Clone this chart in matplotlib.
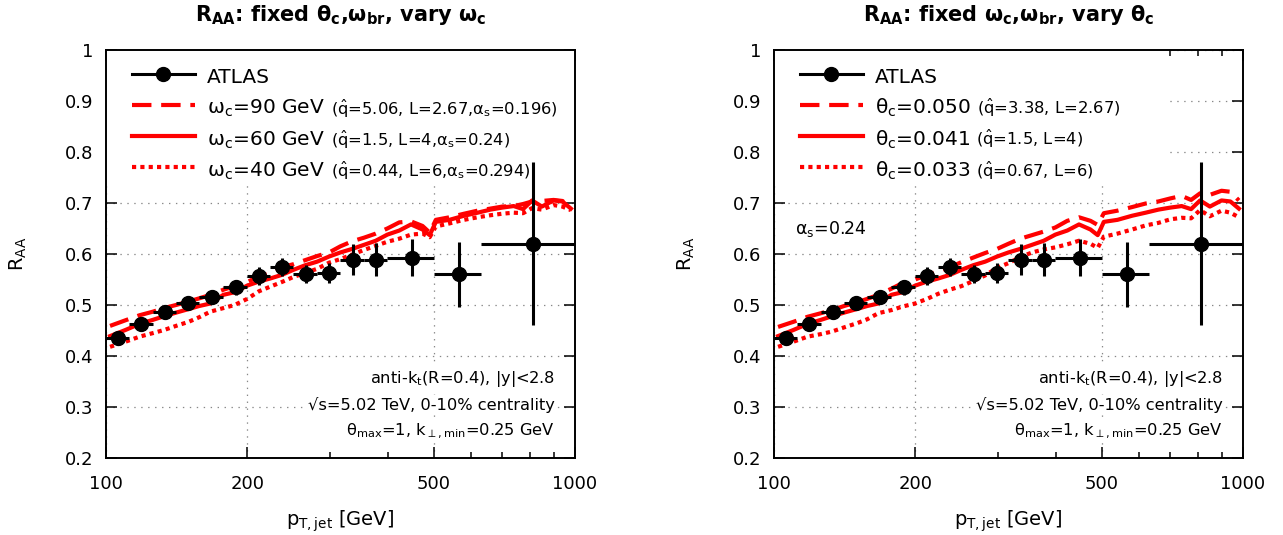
import numpy as np
import matplotlib
matplotlib.use('Agg')
import matplotlib.pyplot as plt
from matplotlib.lines import Line2D
from matplotlib.patches import Rectangle
from matplotlib.ticker import FixedLocator, FixedFormatter, NullFormatter

plt.rcParams['font.family'] = 'DejaVu Sans'
plt.rcParams['mathtext.default'] = 'regular'
plt.rcParams['lines.scale_dashes'] = False

# ATLAS jet R_AA, 0-10%, 5.02 TeV
atlas_lo = [100, 112, 126, 141, 158, 178, 200, 224, 251, 282, 316, 355, 398, 501, 631]
atlas_hi = [112, 126, 141, 158, 178, 200, 224, 251, 282, 316, 355, 398, 501, 631, 1000]
atlas_pt = [106, 119, 133.5, 149.5, 168, 189, 212, 237.5, 266.5, 299, 335.5, 376.5, 449.5, 566, 815.5]
atlas_raa = [0.435, 0.462, 0.487, 0.503, 0.516, 0.535, 0.557, 0.574, 0.561, 0.563,
             0.589, 0.589, 0.593, 0.560, 0.620]
atlas_err = [0.012, 0.012, 0.012, 0.013, 0.013, 0.015, 0.017, 0.018, 0.018, 0.020,
             0.030, 0.033, 0.037, 0.064, 0.160]

# model curves
pt = [102, 110, 118, 126, 133, 141, 150, 158, 167, 178, 188, 200, 212, 224, 237, 251,
      266, 282, 299, 316, 335, 355, 376, 398, 422, 447, 473, 490, 505, 540, 580, 620,
      660, 700, 740, 775, 810, 850, 900, 940, 980]
# omega_c=60 GeV == theta_c=0.041 (same parameters)
raa_ref = [0.439, 0.451, 0.463, 0.471, 0.478, 0.485, 0.492, 0.498, 0.503, 0.520, 0.525,
           0.538, 0.546, 0.552, 0.559, 0.569, 0.578, 0.585, 0.595, 0.603, 0.610, 0.618,
           0.626, 0.638, 0.646, 0.658, 0.648, 0.637, 0.663, 0.667, 0.675, 0.681, 0.687,
           0.691, 0.694, 0.688, 0.705, 0.693, 0.705, 0.703, 0.689]
raa_w90 = [0.459, 0.470, 0.480, 0.487, 0.494, 0.500, 0.507, 0.513, 0.520, 0.530, 0.537,
           0.545, 0.556, 0.563, 0.574, 0.580, 0.588, 0.596, 0.603, 0.615, 0.625, 0.632,
           0.640, 0.650, 0.662, 0.664, 0.655, 0.642, 0.667, 0.672, 0.679, 0.685, 0.689,
           0.693, 0.694, 0.698, 0.703, 0.704, 0.706, 0.704, 0.692]
raa_w40 = [0.418, 0.428, 0.438, 0.445, 0.451, 0.459, 0.467, 0.476, 0.487, 0.494, 0.500,
           0.512, 0.527, 0.536, 0.545, 0.555, 0.563, 0.571, 0.583, 0.590, 0.599, 0.608,
           0.616, 0.624, 0.630, 0.638, 0.640, 0.633, 0.654, 0.660, 0.667, 0.672, 0.676,
           0.679, 0.681, 0.680, 0.690, 0.687, 0.696, 0.693, 0.686]
raa_t050 = [0.457, 0.467, 0.477, 0.484, 0.490, 0.498, 0.505, 0.512, 0.520, 0.532, 0.543,
            0.550, 0.559, 0.566, 0.574, 0.584, 0.593, 0.602, 0.610, 0.620, 0.630, 0.637,
            0.644, 0.652, 0.665, 0.672, 0.665, 0.657, 0.680, 0.685, 0.692, 0.699, 0.703,
            0.709, 0.714, 0.706, 0.719, 0.716, 0.724, 0.722, 0.705]
raa_t033 = [0.418, 0.428, 0.438, 0.443, 0.448, 0.456, 0.464, 0.472, 0.484, 0.490, 0.497,
            0.503, 0.512, 0.522, 0.530, 0.537, 0.547, 0.558, 0.573, 0.582, 0.594, 0.603,
            0.609, 0.613, 0.619, 0.626, 0.620, 0.612, 0.634, 0.640, 0.648, 0.656, 0.661,
            0.668, 0.671, 0.670, 0.686, 0.674, 0.685, 0.681, 0.672]

W, H = 1283, 535
fig = plt.figure(figsize=(W / 100, H / 100), dpi=100)
axL = fig.add_axes([106 / W, 77 / H, 469 / W, 408 / H])
axR = fig.add_axes([774 / W, 77 / H, 469 / W, 408 / H])

red = '#ff0000'
dash = (0, (14, 7))
dot = (0, (3, 3))

panels = [
    (axL, raa_w90, raa_w40,
     [r'$\omega_c$=90 GeV', r'$\omega_c$=60 GeV', r'$\omega_c$=40 GeV'],
     [r'($\hat{q}$=5.06, L=2.67,$\alpha_s$=0.196)', r'($\hat{q}$=1.5, L=4,$\alpha_s$=0.24)',
      r'($\hat{q}$=0.44, L=6,$\alpha_s$=0.294)'],
     r'$\mathbf{R_{AA}}$: fixed $\mathbf{\theta_c}$,$\mathbf{\omega_{br}}$, vary $\mathbf{\omega_c}$',
     1.0),
    (axR, raa_t050, raa_t033,
     [r'$\theta_c$=0.050', r'$\theta_c$=0.041', r'$\theta_c$=0.033'],
     [r'($\hat{q}$=3.38, L=2.67)', r'($\hat{q}$=1.5, L=4)', r'($\hat{q}$=0.67, L=6)'],
     r'$\mathbf{R_{AA}}$: fixed $\mathbf{\omega_c}$,$\mathbf{\omega_{br}}$, vary $\mathbf{\theta_c}$',
     0.834),
]

pt_a = np.array(atlas_pt)
xerr = [pt_a - np.array(atlas_lo), np.array(atlas_hi) - pt_a]

small_jobs = []
for ax, hi, lo, labels, smalls, title, boxw in panels:
    ax.set_xscale('log')
    ax.set_xlim(100, 1000)
    ax.set_ylim(0.2, 1.0)
    ax.set_axisbelow(True)

    ax.errorbar(atlas_pt, atlas_raa, xerr=xerr, yerr=atlas_err, fmt='o', color='black',
                ms=10, lw=2.2, capsize=0, zorder=4)
    l1, = ax.plot(pt, hi, color=red, lw=3, linestyle=dash, zorder=3)
    l2, = ax.plot(pt, raa_ref, color=red, lw=3, zorder=3)
    l3, = ax.plot(pt, lo, color=red, lw=3, linestyle=dot, zorder=3)

    ax.xaxis.set_major_locator(FixedLocator([100, 200, 500, 1000]))
    ax.xaxis.set_major_formatter(FixedFormatter(['100', '200', '500', '1000']))
    ax.xaxis.set_minor_locator(FixedLocator([300, 400, 600, 700, 800, 900]))
    ax.xaxis.set_minor_formatter(NullFormatter())
    yt = [0.2, 0.3, 0.4, 0.5, 0.6, 0.7, 0.8, 0.9, 1.0]
    ax.yaxis.set_major_locator(FixedLocator(yt))
    ax.yaxis.set_major_formatter(FixedFormatter(['%g' % v for v in yt]))
    ax.tick_params(which='both', direction='in', top=True, right=True, labelsize=13, width=1.1)
    ax.tick_params(which='major', length=8)
    ax.tick_params(which='minor', length=4)
    ax.tick_params(axis='x', pad=12)
    ax.tick_params(axis='y', pad=9)
    for s in ax.spines.values():
        s.set_linewidth(1.4)
    ax.grid(True, which='major', linestyle=(0, (1, 4)), color='#888888', lw=0.9)

    ax.add_patch(Rectangle((0, 0.674), boxw, 0.326, transform=ax.transAxes,
                           facecolor='white', edgecolor='none', zorder=1))

    ax.set_title(title, fontsize=15, fontweight='bold', pad=21)
    ax.set_xlabel(r'$p_{T,jet}$ [GeV]', fontsize=14)
    ax.xaxis.set_label_coords(0.5, -0.125)
    ax.set_ylabel(r'$R_{AA}$', fontsize=14)
    ax.yaxis.set_label_coords(-0.165, 0.5)

    atlas_h = Line2D([], [], color='black', marker='o', ms=10, lw=2.2)
    leg = ax.legend([atlas_h, l1, l2, l3], ['ATLAS'] + labels, loc='upper left',
                    bbox_to_anchor=(0.056, 0.965), frameon=False, fontsize=14.5,
                    handlelength=3.1, handletextpad=0.6, handleheight=1.45,
                    labelspacing=0.36, borderpad=0, borderaxespad=0)
    leg.set_zorder(6)
    small_jobs.append((leg, smalls))

    tb = dict(facecolor='white', edgecolor='none', pad=1.5)
    ax.text(0.957, 0.185, r'anti-$k_t$(R=0.4), |y|<2.8', transform=ax.transAxes,
            ha='right', va='baseline', fontsize=11.7, bbox=tb, zorder=5)
    ax.text(0.957, 0.118, '√s=5.02 TeV, 0-10% centrality', transform=ax.transAxes,
            ha='right', va='baseline', fontsize=11.7, bbox=tb, zorder=5)
    ax.text(0.957, 0.055, r'$\theta_{max}$=1, $k_{\perp,min}$=0.25 GeV', transform=ax.transAxes,
            ha='right', va='baseline', fontsize=11.7, bbox=tb, zorder=5)

axR.text(0.045, 0.549, r'$\alpha_s$=0.24', transform=axR.transAxes, ha='left',
         va='baseline', fontsize=12.5, zorder=5)

fig.canvas.draw()
r = fig.canvas.get_renderer()
for leg, smalls in small_jobs:
    texts = leg.get_texts()[1:]
    for t, s in zip(texts, smalls):
        bb = t.get_window_extent(r)
        fig.text((bb.x1 + 6) / W, (bb.y0 + bb.y1) / 2 / H, s, fontsize=11.8,
                 ha='left', va='center', zorder=7)

fig.savefig('out.png', dpi=100)
